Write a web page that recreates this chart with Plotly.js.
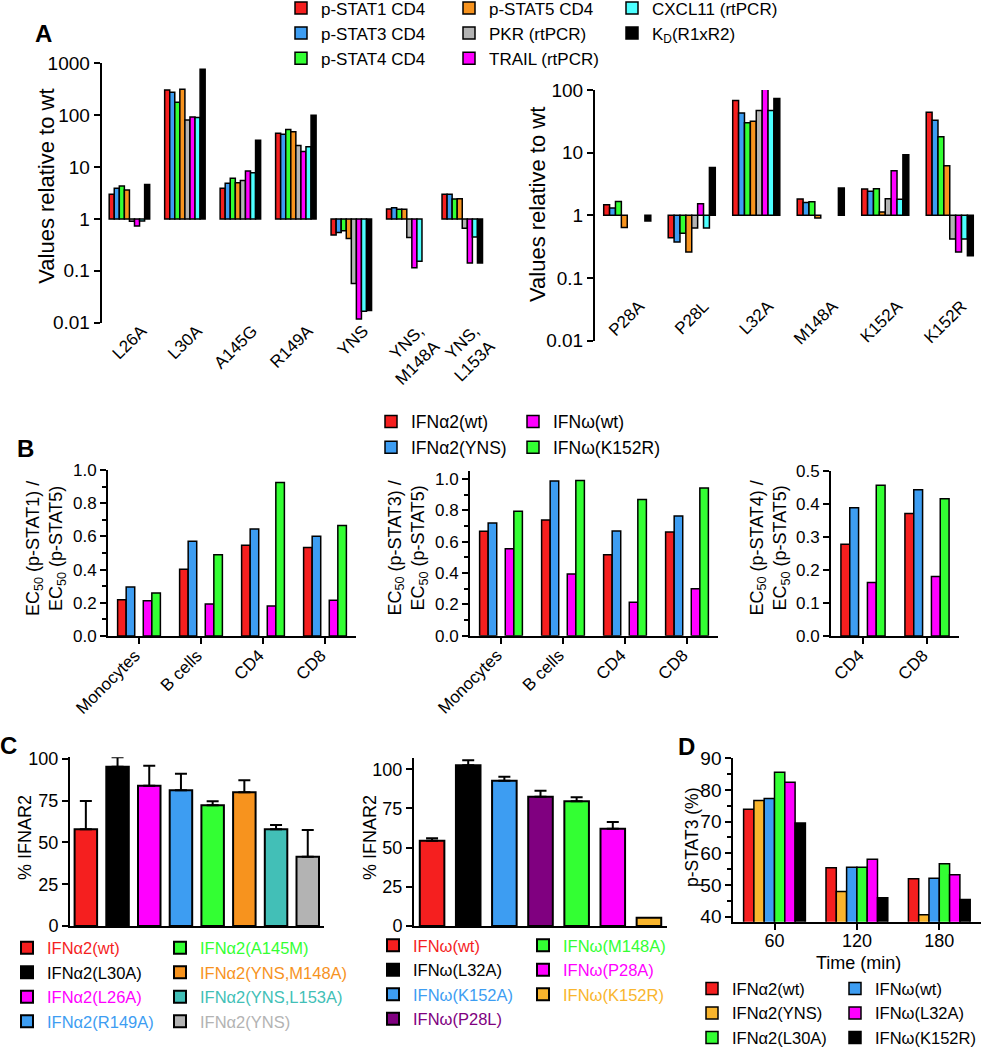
<!DOCTYPE html>
<html>
<head>
<meta charset="utf-8">
<script src="https://cdn.plot.ly/plotly-3.0.1.min.js"></script>
<style>html,body{margin:0;padding:0;background:#fff}#chart{width:983px;height:1050px}</style>
</head>
<body>
<div id="chart"></div>
<script>
// ================= DATA =================
// Panel A – IFNα2 mutants (values relative to wt, log scale)
const mutantsA1 = ['L26A', 'L30A', 'A145G', 'R149A', 'YNS', 'YNS,<br>M148A', 'YNS,<br>L153A'];
const a1Stat1  = [3.0, 306, 3.9, 45, 0.49, 1.56, 3.0];
const a1Stat3  = [3.9, 276, 4.9, 43, 0.55, 1.65, 3.0];
const a1Stat4  = [4.3, 177, 6.1, 53, 0.59, 1.53, 2.43];
const a1Stat5  = [3.6, 315, 5.0, 48, 0.42, 1.53, 2.46];
const a1Pkr    = [0.9, 81, 5.5, 26, 0.057, 0.44, 0.66];
const a1Trail  = [0.73, 92, 8.4, 20, 0.0118, 0.114, 0.142];
const a1Cxcl11 = [0.91, 90, 7.8, 24.5, 0.0166, 0.153, 0.45];
const a1Kd     = [4.6, 764, 33, 100, 0.0171, null, 0.142];

// Panel A – IFNω mutants
const mutantsA2 = ['P28A', 'P28L', 'L32A', 'M148A', 'K152A', 'K152R'];
const a2Stat1  = [1.48, 0.44, 68, 1.82, 2.63, 44];
const a2Stat3  = [1.31, 0.375, 43, 1.61, 2.42, 33];
const a2Stat4  = [1.67, 0.52, 30, 1.65, 2.66, 18];
const a2Stat5  = [0.64, 0.26, 31.6, 0.91, 1.13, 6.2];
const a2Pkr    = [null, 0.63, 47, null, 1.84, 0.42];
const a2Trail  = [null, 1.53, 128, null, 5.16, 0.26];
const a2Cxcl11 = [null, 0.63, 47, null, 1.8, 0.42];
const a2Kd     = [0.81, 5.8, 73, 2.73, 9.3, 0.227];

const seriesNamesA = ['p-STAT1 CD4', 'p-STAT3 CD4', 'p-STAT4 CD4', 'p-STAT5 CD4',
                      'PKR (rtPCR)', 'TRAIL (rtPCR)', 'CXCL11 (rtPCR)', 'K<sub>D</sub>(R1xR2)'];
const logTickVals = [0.01, 0.1, 1, 10, 100, 1000];
const logTickText = ['0.01', '0.1', '1', '10', '100', '1000'];

// Panel B – EC50 ratios
const cellsB = ['Monocytes', 'B cells', 'CD4', 'CD8'];
const cellsB4 = ['CD4', 'CD8'];
const seriesNamesB = ['IFNα2(wt)', 'IFNα2(YNS)', 'IFNω(wt)', 'IFNω(K152R)'];
const b1A2wt  = [0.219, 0.402, 0.547, 0.533];
const b1A2yns = [0.295, 0.571, 0.645, 0.601];
const b1Owt   = [0.213, 0.193, 0.180, 0.215];
const b1Ok152r = [0.259, 0.490, 0.925, 0.665];
const b3A2wt  = [0.666, 0.738, 0.517, 0.662];
const b3A2yns = [0.719, 0.987, 0.668, 0.764];
const b3Owt   = [0.555, 0.394, 0.213, 0.300];
const b3Ok152r = [0.794, 0.991, 0.870, 0.943];
const b4A2wt  = [0.278, 0.371];
const b4A2yns = [0.389, 0.443];
const b4Owt   = [0.162, 0.180];
const b4Ok152r = [0.457, 0.416];

// Panel C – % IFNAR2
const variantsC1 = ['IFNα2(wt)', 'IFNα2(L30A)', 'IFNα2(L26A)', 'IFNα2(R149A)',
                    'IFNα2(A145M)', 'IFNα2(YNS,M148A)', 'IFNα2(YNS,L153A)', 'IFNα2(YNS)'];
const ifnar2C1 = [57.9, 95.4, 84.0, 81.2, 72.3, 80.1, 57.9, 41.5];
const errC1    = [17.0, 5.6, 12.0, 10.0, 2.4, 7.1, 2.6, 16.0];
const variantsC2 = ['IFNω(wt)', 'IFNω(L32A)', 'IFNω(K152A)', 'IFNω(P28L)',
                    'IFNω(M148A)', 'IFNω(P28A)', 'IFNω(K152R)'];
const ifnar2C2 = [54.4, 102.5, 92.7, 82.5, 79.6, 62.1, 5.3];
const errC2    = [1.6, 3.2, 2.6, 3.8, 2.5, 4.3, 0];

// Panel D – p-STAT3 (%) over time
const timesD = ['60', '120', '180'];
const seriesNamesD = ['IFNα2(wt)', 'IFNα2(YNS)', 'IFNω(wt)', 'IFNα2(L30A)', 'IFNω(L32A)', 'IFNω(K152R)'];
const dA2wt   = [73.9, 55.4, 52.0];
const dA2yns  = [76.7, 47.9, 40.6];
const dOwt    = [77.3, 55.6, 52.1];
const dA2l30a = [85.6, 55.6, 56.7];
const dOl32a  = [82.4, 58.1, 53.2];
const dOk152r = [69.6, 46.0, 45.4];

// ================= STYLE / LAYOUT HELPERS =================
const FONT = 'Liberation Sans, Arial, Helvetica, sans-serif';
const W = 983, H = 1050;
const dx = (a, b) => [a / W, b / W];
const dy = (top, bot) => [1 - bot / H, 1 - top / H];
const RED = '#f51f1f', BLUE = '#3d9df2', GREEN = '#33ff33', ORANGE = '#f7931e',
      GRAY = '#b3b3b3', MAGENTA = '#ff00ff', CYAN = '#4dffff', BLACK = '#000000',
      TEAL = '#42bfb7', PURPLE = '#800080', GOLD = '#f9b52d';
const OUTLINE = {color: '#000', width: 1.5};

const traces = [];

// ---- Panel A traces
const colorsA = [RED, BLUE, GREEN, ORANGE, GRAY, MAGENTA, CYAN, BLACK];
const legendsA = ['legend', 'legend', 'legend', 'legend2', 'legend2', 'legend2', 'legend3', 'legend3'];
const leftA = [a1Stat1, a1Stat3, a1Stat4, a1Stat5, a1Pkr, a1Trail, a1Cxcl11, a1Kd];
const rightA = [a2Stat1, a2Stat3, a2Stat4, a2Stat5, a2Pkr, a2Trail, a2Cxcl11, a2Kd];
const groupA = 0.73, slotA = groupA / 8;
function fromOne(vals) { return vals.map(v => v == null ? null : v - 1); }
seriesNamesA.forEach((nm, i) => {
  const common = {type: 'bar', name: nm, base: 1, width: slotA, offset: -groupA / 2 + i * slotA,
    marker: {color: colorsA[i], line: OUTLINE}, hoverinfo: 'skip'};
  traces.push(Object.assign({}, common, {x: mutantsA1, y: fromOne(leftA[i]), xaxis: 'x', yaxis: 'y',
    legend: legendsA[i], showlegend: true}));
  traces.push(Object.assign({}, common, {x: mutantsA2, y: fromOne(rightA[i]), xaxis: 'x2', yaxis: 'y2',
    showlegend: false}));
});

// ---- Panel B traces
const colorsB = [RED, BLUE, MAGENTA, GREEN];
const slotIdxB = [0, 1, 3, 4];
const groupB = 0.69, slotB = groupB / 5;
const legendsB = ['legend4', 'legend4', 'legend5', 'legend5'];
const panelsB = [
  {cats: cellsB, vals: [b1A2wt, b1A2yns, b1Owt, b1Ok152r], xa: 'x3', ya: 'y3', show: true},
  {cats: cellsB, vals: [b3A2wt, b3A2yns, b3Owt, b3Ok152r], xa: 'x4', ya: 'y4', show: false},
  {cats: cellsB4, vals: [b4A2wt, b4A2yns, b4Owt, b4Ok152r], xa: 'x5', ya: 'y5', show: false}
];
panelsB.forEach(p => {
  seriesNamesB.forEach((nm, i) => {
    traces.push({type: 'bar', name: nm, x: p.cats, y: p.vals[i], xaxis: p.xa, yaxis: p.ya,
      width: slotB, offset: -groupB / 2 + slotIdxB[i] * slotB,
      marker: {color: colorsB[i], line: OUTLINE}, hoverinfo: 'skip',
      legend: legendsB[i], showlegend: p.show});
  });
});

// ---- Panel C traces
const colorsC1 = [RED, BLACK, MAGENTA, BLUE, GREEN, ORANGE, TEAL, GRAY];
const colorsC2 = [RED, BLACK, BLUE, PURPLE, GREEN, MAGENTA, GOLD];
function cBars(names, vals, errs, colors, xa, ya, wid, legA, legB, splitAt) {
  names.forEach((nm, i) => {
    traces.push({type: 'bar', name: '<span style="color:' + colors[i] + '">' + nm + '</span>',
      x: [nm], y: [vals[i]], xaxis: xa, yaxis: ya, width: wid, offset: -wid / 2,
      marker: {color: colors[i], line: {color: '#000', width: 2}}, hoverinfo: 'skip',
      error_y: {type: 'data', symmetric: false, array: [errs[i]], arrayminus: [0],
        color: '#000', thickness: 2, width: 6, visible: errs[i] > 0},
      legend: i < splitAt ? legA : legB, showlegend: true});
  });
}
cBars(variantsC1, ifnar2C1, errC1, colorsC1, 'x6', 'y6', 0.71, 'legend6', 'legend7', 4);
cBars(variantsC2, ifnar2C2, errC2, colorsC2, 'x7', 'y7', 0.68, 'legend8', 'legend9', 4);

// ---- Panel D traces
const colorsD = [RED, GOLD, BLUE, GREEN, MAGENTA, BLACK];
const valsD = [dA2wt, dA2yns, dOwt, dA2l30a, dOl32a, dOk152r];
const legendsD = ['legend10', 'legend10', 'legend11', 'legend10', 'legend11', 'legend11'];
const groupD = 0.75, slotD = groupD / 6;
seriesNamesD.forEach((nm, i) => {
  traces.push({type: 'bar', name: nm, x: timesD, y: valsD[i], xaxis: 'x8', yaxis: 'y8',
    width: slotD, offset: -groupD / 2 + i * slotD,
    marker: {color: colorsD[i], line: OUTLINE}, hoverinfo: 'skip',
    legend: legendsD[i], showlegend: true});
});

// ---- Axes
function axis(extra) {
  return Object.assign({showgrid: false, zeroline: false, showline: true, linecolor: '#000', linewidth: 2,
    ticks: 'outside', ticklen: 6, tickwidth: 2, tickcolor: '#000', fixedrange: true,
    tickfont: {family: FONT, size: 17, color: '#000'}}, extra);
}
const minorB = {ticks: 'outside', dtick: 0.1, ticklen: 4, tickwidth: 2, tickcolor: '#000'};

function legendBox(xPx, firstCenterPx, fs) {
  const h = 1.3 * fs + 3;
  const top = firstCenterPx - (h / 2 + 5);
  return {x: (xPx) / W, y: 1 - top / H, xanchor: 'left', yanchor: 'top', orientation: 'v',
    bgcolor: 'rgba(0,0,0,0)', borderwidth: 0, traceorder: 'normal', tracegroupgap: 0,
    itemclick: false, itemdoubleclick: false, font: {family: FONT, size: fs, color: '#000'}};
}

function ann(text, xPx, yPx, size, angle, bold) {
  return {text: bold ? '<b>' + text + '</b>' : text, x: xPx / W, y: 1 - yPx / H, xref: 'paper', yref: 'paper',
    xanchor: 'center', yanchor: 'middle', showarrow: false, textangle: angle || 0,
    font: {family: FONT, size: size, color: '#000'}};
}

const layout = {
  width: W, height: H,
  margin: {l: 0, r: 0, t: 0, b: 0, autoexpand: false},
  paper_bgcolor: '#fff', plot_bgcolor: 'rgba(0,0,0,0)',
  barmode: 'overlay', showlegend: true,
  font: {family: FONT, color: '#000'},
  // Panel A
  xaxis: axis({domain: dx(101.7, 490), anchor: 'y', type: 'category', range: [-0.5, 6.5],
    showline: false, ticks: '', tickangle: -45, ticklabelshift: 12, ticklabelstandoff: -6}),
  yaxis: axis({domain: dy(63.3, 322.7), anchor: 'x', type: 'log', range: [-2, 3],
    tickvals: logTickVals, ticktext: logTickText, tickfont: {family: FONT, size: 19, color: '#000'}}),
  xaxis2: axis({domain: dx(595, 982), anchor: 'free', position: 1 - 292 / H, type: 'category',
    range: [-0.5, 5.5], showline: false, ticks: '', tickangle: -45, ticklabelshift: 12}),
  yaxis2: axis({domain: dy(90, 340.7), anchor: 'x2', type: 'log', range: [-2, 2],
    tickvals: logTickVals, ticktext: logTickText, tickfont: {family: FONT, size: 19, color: '#000'}}),
  // Panel B
  xaxis3: axis({domain: dx(108, 356), anchor: 'y3', type: 'category', range: [-0.5, 3.5], tickangle: -45,
    ticklabelshift: -4, ticklabelstandoff: -5}),
  yaxis3: axis({domain: dy(470, 636), anchor: 'x3', range: [0, 1], tick0: 0, dtick: 0.2, tickformat: '.1f', minor: minorB}),
  xaxis4: axis({domain: dx(470, 718), anchor: 'y4', type: 'category', range: [-0.5, 3.5], tickangle: -45,
    ticklabelshift: -4, ticklabelstandoff: -5}),
  yaxis4: axis({domain: dy(471.2, 635.7), anchor: 'x4', range: [0, 1.05], tick0: 0, dtick: 0.2, tickformat: '.1f', minor: minorB}),
  xaxis5: axis({domain: dx(831, 959), anchor: 'y5', type: 'category', range: [-0.5, 1.5], tickangle: -45,
    ticklabelshift: -4, ticklabelstandoff: -5}),
  yaxis5: axis({domain: dy(471, 636), anchor: 'x5', range: [0, 0.5], tick0: 0, dtick: 0.1, tickformat: '.1f'}),
  // Panel C
  xaxis6: axis({domain: dx(70, 323.6), anchor: 'y6', type: 'category', range: [-0.5, 7.5], ticks: '', showticklabels: false}),
  yaxis6: axis({domain: dy(757.3, 926), anchor: 'x6', range: [0, 101], tick0: 0, dtick: 25,
    tickfont: {family: FONT, size: 18, color: '#000'}}),
  xaxis7: axis({domain: dx(414, 667), anchor: 'y7', type: 'category', range: [-0.5, 6.5], ticks: '', showticklabels: false}),
  yaxis7: axis({domain: dy(758, 926), anchor: 'x7', range: [0, 107.2], tick0: 0, dtick: 25,
    tickfont: {family: FONT, size: 18, color: '#000'}}),
  // Panel D
  xaxis8: axis({domain: dx(733.3, 980.5), anchor: 'y8', type: 'category', range: [-0.5, 2.5],
    ticklabelstandoff: -4, tickfont: {family: FONT, size: 18, color: '#000'}}),
  yaxis8: axis({domain: dy(758.3, 921.7), anchor: 'x8', range: [38.4, 90], tick0: 40, dtick: 10,
    minor: {ticks: 'outside', dtick: 5, ticklen: 4, tickwidth: 2, tickcolor: '#000'},
    tickfont: {family: FONT, size: 19, color: '#000'}}),
  // Legends
  legend: legendBox(281, 8, 17),
  legend2: legendBox(449, 8, 17),
  legend3: legendBox(612, 8, 17),
  legend4: legendBox(371, 421.6, 17.5),
  legend5: legendBox(513, 421.6, 17.5),
  legend6: legendBox(7, 947.8, 16.5),
  legend7: legendBox(160, 947.8, 16.5),
  legend8: legendBox(373, 945.3, 16.5),
  legend9: legendBox(523, 945.3, 16.5),
  legend10: legendBox(692, 988.5, 16.5),
  legend11: legendBox(835, 988.5, 16.5),
  shapes: [
    {type: 'line', xref: 'x domain', yref: 'y', x0: 0, x1: 1, y0: 0, y1: 0, line: {color: '#000', width: 2}},
    {type: 'line', xref: 'x2 domain', yref: 'y2', x0: 0, x1: 1, y0: 0, y1: 0, line: {color: '#000', width: 2}}
  ],
  annotations: [
    ann('A', 43, 33, 24, 0, true),
    ann('B', 25, 449, 24, 0, true),
    ann('C', 8, 745, 24, 0, true),
    ann('D', 686, 746, 24, 0, true),
    ann('Values relative to wt', 47, 186.7, 22, -90),
    ann('Values relative to wt', 538, 205, 22, -90),
    ann('EC<sub>50</sub> (p-STAT1) /<br>EC<sub>50</sub> (p-STAT5)', 45.5, 548.5, 18, -90),
    ann('EC<sub>50</sub> (p-STAT3) /<br>EC<sub>50</sub> (p-STAT5)', 407.5, 548, 18, -90),
    ann('EC<sub>50</sub> (p-STAT4) /<br>EC<sub>50</sub> (p-STAT5)', 769.5, 548, 18, -90),
    ann('% IFNAR2', 25, 838, 18, -90),
    ann('% IFNAR2', 370, 838, 18, -90),
    ann('p-STAT3 (%)', 692, 837, 17.5, -90),
    ann('Time (min)', 858.7, 963, 18, 0)
  ]
};

Plotly.newPlot('chart', traces, layout, {staticPlot: true, displayModeBar: false});
</script>
</body>
</html>
